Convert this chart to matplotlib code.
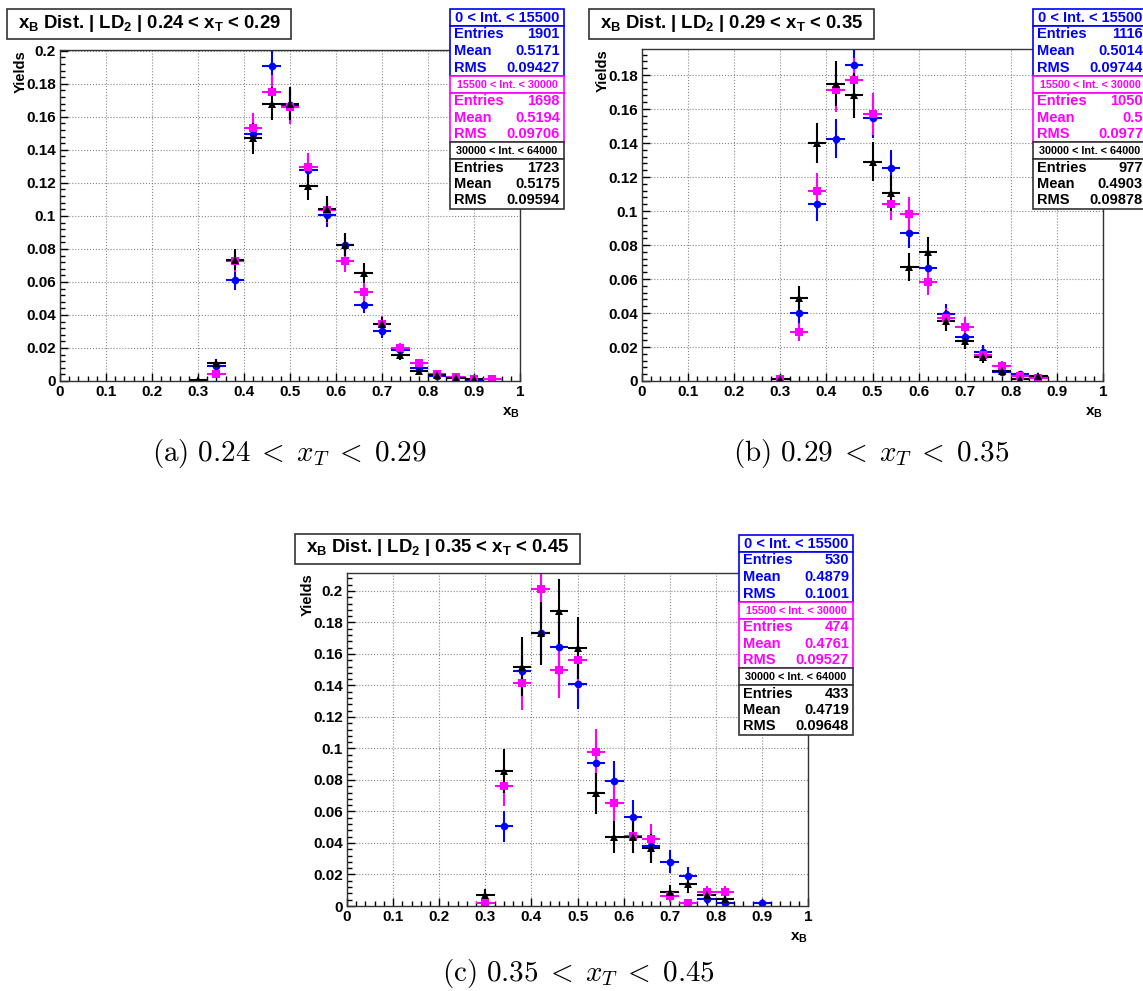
import numpy as np
import matplotlib
matplotlib.use("Agg")
from matplotlib import pyplot as plt
from matplotlib.patches import Rectangle
from matplotlib.ticker import MultipleLocator, FormatStrFormatter

plt.rcParams['font.family'] = ['Liberation Sans', 'DejaVu Sans']
plt.rcParams['font.weight'] = 'bold'
plt.rcParams['mathtext.fontset'] = 'custom'
plt.rcParams['mathtext.rm'] = 'Liberation Sans:bold'
plt.rcParams['mathtext.it'] = 'Liberation Sans:bold'
plt.rcParams['mathtext.bf'] = 'Liberation Sans:bold'

# ---- data (bin centres in x_B, normalised yields) ----
a_x_blue = [0.34, 0.38, 0.42, 0.46, 0.50, 0.54, 0.58, 0.62, 0.66, 0.70, 0.74, 0.78, 0.82, 0.86, 0.90]
a_y_blue = [0.0093, 0.061, 0.1497, 0.191, 0.167, 0.128, 0.1003, 0.0826, 0.0463, 0.030, 0.019, 0.0077, 0.003, 0.0026, 0.0006]
a_x_mag = [0.34, 0.38, 0.42, 0.46, 0.50, 0.54, 0.58, 0.62, 0.66, 0.70, 0.74, 0.78, 0.82, 0.86, 0.90, 0.94]
a_y_mag = [0.0042, 0.0725, 0.153, 0.175, 0.1658, 0.1295, 0.1037, 0.0727, 0.0538, 0.0346, 0.0197, 0.011, 0.004, 0.0022, 0.001, 0.001]
a_x_blk = [0.30, 0.34, 0.38, 0.42, 0.46, 0.50, 0.54, 0.58, 0.62, 0.66, 0.70, 0.74, 0.78, 0.82, 0.86, 0.90]
a_y_blk = [0.0006, 0.011, 0.0735, 0.147, 0.168, 0.168, 0.118, 0.104, 0.0826, 0.0655, 0.0344, 0.016, 0.006, 0.0036, 0.002, 0.0012]

b_x_blue = [0.34, 0.38, 0.42, 0.46, 0.50, 0.54, 0.58, 0.62, 0.66, 0.70, 0.74, 0.78, 0.82, 0.86]
b_y_blue = [0.0402, 0.104, 0.1426, 0.186, 0.1545, 0.1253, 0.0868, 0.0662, 0.0394, 0.026, 0.0172, 0.0055, 0.004, 0.002]
b_x_mag = [0.30, 0.34, 0.38, 0.42, 0.46, 0.50, 0.54, 0.58, 0.62, 0.66, 0.70, 0.74, 0.78, 0.82, 0.86]
b_y_mag = [0.0012, 0.0288, 0.1118, 0.171, 0.1769, 0.1569, 0.1044, 0.0983, 0.0582, 0.0368, 0.0319, 0.0153, 0.009, 0.003, 0.002]
b_x_blk = [0.30, 0.34, 0.38, 0.42, 0.46, 0.50, 0.54, 0.58, 0.62, 0.66, 0.70, 0.74, 0.78, 0.82, 0.86]
b_y_blk = [0.001, 0.049, 0.140, 0.175, 0.168, 0.129, 0.1105, 0.0672, 0.0758, 0.0355, 0.0235, 0.0143, 0.006, 0.001, 0.003]

c_x_blue = [0.34, 0.38, 0.42, 0.46, 0.50, 0.54, 0.58, 0.62, 0.66, 0.70, 0.74, 0.78, 0.82, 0.90]
c_y_blue = [0.0507, 0.149, 0.1736, 0.1645, 0.1412, 0.0909, 0.0795, 0.0567, 0.038, 0.028, 0.019, 0.0042, 0.002, 0.002]
c_x_mag = [0.30, 0.34, 0.38, 0.42, 0.46, 0.50, 0.54, 0.58, 0.62, 0.66, 0.70, 0.74, 0.78, 0.82]
c_y_mag = [0.002, 0.076, 0.1414, 0.201, 0.1497, 0.1562, 0.0977, 0.0655, 0.0444, 0.0423, 0.0063, 0.002, 0.0087, 0.0087]
c_x_blk = [0.30, 0.34, 0.38, 0.42, 0.46, 0.50, 0.54, 0.58, 0.62, 0.66, 0.70, 0.74, 0.78, 0.82]
c_y_blk = [0.007, 0.0856, 0.152, 0.173, 0.187, 0.1638, 0.0715, 0.044, 0.044, 0.0366, 0.009, 0.014, 0.0068, 0.0045]

int_ranges = ['0 < Int. < 15500', '15500 < Int. < 30000', '30000 < Int. < 64000']
a_entries = [1901, 1698, 1723]
a_mean = ['0.5171', '0.5194', '0.5175']
a_rms = ['0.09427', '0.09706', '0.09594']
b_entries = [1116, 1050, 977]
b_mean = ['0.5014', '0.5', '0.4903']
b_rms = ['0.09744', '0.0977', '0.09878']
c_entries = [530, 474, 433]
c_mean = ['0.4879', '0.4761', '0.4719']
c_rms = ['0.1001', '0.09527', '0.09648']

xt_lo = ['0.24', '0.29', '0.35']
xt_hi = ['0.29', '0.35', '0.45']

W, H = 1143, 991
fig = plt.figure(figsize=(W / 100, H / 100), dpi=100)

colors = ['#0000ff', '#ff00ff', '#000000']
markers = ['o', 's', '^']
msizes = [5.5, 5.5, 5.5]
binw = 0.04


def panel(l, t, r, b, ymax, series, entries):
    ax = fig.add_axes([l / W, 1 - b / H, (r - l) / W, (b - t) / H])
    for (xs, ys), col, mk, ms, n in zip(series, colors, markers, msizes, entries):
        xs = np.array(xs)
        ys = np.array(ys)
        err = np.sqrt(ys / n)  # poisson error of a normalised histogram
        ax.errorbar(xs, ys, xerr=binw / 2, yerr=err, fmt=mk, color=col,
                    ms=ms, elinewidth=1.5, capsize=0, mew=0)
    ax.set_xlim(0, 1)
    ax.set_ylim(0, ymax)
    ax.xaxis.set_major_locator(MultipleLocator(0.1))
    ax.xaxis.set_minor_locator(MultipleLocator(0.02))
    ax.yaxis.set_major_locator(MultipleLocator(0.02))
    ax.yaxis.set_minor_locator(MultipleLocator(0.004))
    ax.xaxis.set_major_formatter(FormatStrFormatter('%g'))
    ax.yaxis.set_major_formatter(FormatStrFormatter('%g'))
    ax.tick_params(which='both', direction='in', labelsize=11, top=False, right=False)
    ax.tick_params(which='major', length=6, width=1, pad=3)
    ax.tick_params(which='minor', length=3.5, width=1)
    for lab in ax.get_xticklabels() + ax.get_yticklabels():
        lab.set_fontweight('bold')
    ax.grid(True, which='major', ls=':', color='#888888', lw=0.8)
    for sp in ax.spines.values():
        sp.set_color('#333333')
        sp.set_linewidth(1)
    ax.set_ylabel('Yields', fontsize=10.5, fontweight='bold', ha='right')
    ax.yaxis.set_label_coords(-0.07, 1.0)
    ax.set_xlabel('$x_B$', fontsize=11, ha='right')
    ax.xaxis.set_label_coords(1.0, -0.075)
    return ax


panel(60, 50, 520, 381, 0.2005,
      [(a_x_blue, a_y_blue), (a_x_mag, a_y_mag), (a_x_blk, a_y_blk)], a_entries)
panel(642, 49, 1103, 381, 0.1953,
      [(b_x_blue, b_y_blue), (b_x_mag, b_y_mag), (b_x_blk, b_y_blk)], b_entries)
panel(347, 573, 808, 906, 0.2114,
      [(c_x_blue, c_y_blue), (c_x_mag, c_y_mag), (c_x_blk, c_y_blk)], c_entries)

# overlay in pixel coordinates for title boxes, stat boxes and captions
ov = fig.add_axes([0, 0, 1, 1], zorder=10)
ov.set_xlim(0, W)
ov.set_ylim(H, 0)
ov.axis('off')


def title_box(x0, y0, x1, y1, lo, hi):
    ov.add_patch(Rectangle((x0, y0), x1 - x0, y1 - y0, fc='white', ec='#333333', lw=1.2))
    ov.text((x0 + x1) / 2, (y0 + y1) / 2 - 1,
            r'$x_{B}$ Dist. | LD$_{2}$ | ' + lo + r' < $x_{T}$ < ' + hi,
            ha='center', va='center', fontsize=13.3, fontweight='bold')


def stat_box(x0, y0, w, entries, means, rmss):
    hh, rh = 17, 49.5
    y = y0
    for i in range(3):
        col = colors[i]
        ec = col if i < 2 else '#333333'
        ov.add_patch(Rectangle((x0, y), w, hh, fc='white', ec=ec, lw=1.2))
        ov.text(x0 + w / 2, y + hh / 2 + 0.5, int_ranges[i], ha='center', va='center',
                color=col, fontsize=10.5 if i == 0 else 7.8, fontweight='bold')
        y += hh
        ov.add_patch(Rectangle((x0, y), w, rh, fc='white', ec=ec, lw=1.2))
        rows = [('Entries', str(entries[i])), ('Mean', means[i]), ('RMS', rmss[i])]
        for k, (lab, val) in enumerate(rows):
            yy = y + 8.5 + k * 16.5
            ov.text(x0 + 4, yy, lab, ha='left', va='center', color=col, fontsize=10.5, fontweight='bold')
            ov.text(x0 + w - 4, yy, val, ha='right', va='center', color=col, fontsize=10.5, fontweight='bold')
        y += rh


title_box(7, 9, 291, 39, xt_lo[0], xt_hi[0])
title_box(589, 9, 874, 39, xt_lo[1], xt_hi[1])
title_box(295, 534, 580, 564, xt_lo[2], xt_hi[2])

stat_box(450, 9, 114, a_entries, a_mean, a_rms)
stat_box(1033, 9, 114, b_entries, b_mean, b_rms)
stat_box(739, 535, 114, c_entries, c_mean, c_rms)

caps = ['(a)', '(b)', '(c)']
cap_pos = [(289, 453), (871, 453), (578, 973)]
for cap, (cx, cy), lo, hi in zip(caps, cap_pos, xt_lo, xt_hi):
    ov.text(cx, cy, r'$\mathrm{' + cap + r'}\ ' + lo + r'\;<\;x_T\;<\;' + hi + '$',
            ha='center', va='center', fontsize=21, math_fontfamily='cm', fontweight='normal')

fig.savefig('out.png', dpi=100)
